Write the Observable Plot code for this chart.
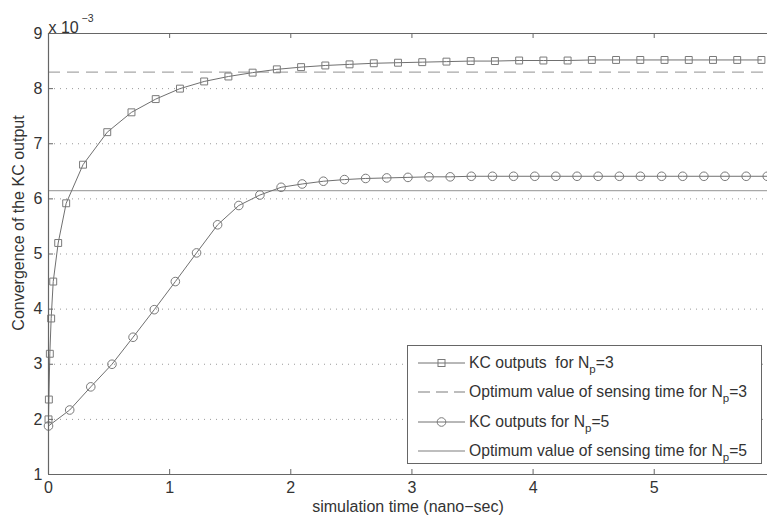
<!DOCTYPE html>
<html>
<head>
<meta charset="utf-8">
<script src="https://cdn.jsdelivr.net/npm/d3@7"></script>
<script src="https://cdn.jsdelivr.net/npm/@observablehq/plot@0.6"></script>
<style>
  html, body { margin: 0; padding: 0; background: #fff; overflow: hidden; }
  #wrap { position: relative; width: 767px; height: 517px; overflow: hidden; font-family: "Liberation Sans", Arial, sans-serif; }
  #wrap svg.plot { display: block; }
  #legend { position: absolute; left: 407px; top: 345px; width: 355px; height: 119px; box-sizing: border-box;
            border: 1px solid #666; background: #fff; }
  .row { position: absolute; left: 0; height: 28px; display: flex; align-items: center; white-space: nowrap;
         font-size: 15.7px; color: #333; }
  .row svg { display: block; flex: none; }
  .row span { margin-left: 0px; }
  .row sub { font-size: 11.5px; line-height: 0; vertical-align: -5px; }
  #ylabel { position: absolute; left: 19px; top: 223px; transform: translate(-50%, -50%) rotate(-90deg);
            white-space: nowrap; font-size: 16px; color: #333; line-height: 1; }
</style>
</head>
<body>
<div id="wrap"><div id="chart"></div><div id="ylabel"></div><div id="legend"></div></div>
<script>
// ---- data (values in units of 10^-3) ----
const seriesNames = ["KC outputs  for N_p=3", "Optimum value of sensing time for N_p=3",
                     "KC outputs for N_p=5", "Optimum value of sensing time for N_p=5"];

const timeNp3 = [0, 0.003, 0.011, 0.022, 0.039, 0.08, 0.146, 0.285, 0.485, 0.685, 0.885, 1.085,
                 1.285, 1.485, 1.685, 1.885, 2.085, 2.285, 2.485, 2.685, 2.885, 3.085, 3.285,
                 3.485, 3.685, 3.885, 4.085, 4.285, 4.485, 4.685, 4.885, 5.085, 5.285, 5.485,
                 5.685, 5.885];
const kcNp3   = [2.0, 2.36, 3.19, 3.83, 4.50, 5.20, 5.92, 6.62, 7.21, 7.57, 7.81, 8.00,
                 8.13, 8.22, 8.29, 8.35, 8.39, 8.42, 8.44, 8.46, 8.47, 8.48, 8.49,
                 8.50, 8.50, 8.51, 8.51, 8.51, 8.52, 8.52, 8.52, 8.52, 8.52, 8.52,
                 8.52, 8.52];

const timeNp5 = [0, 0.175, 0.349, 0.524, 0.698, 0.873, 1.047, 1.222, 1.396, 1.571, 1.745, 1.92,
                 2.094, 2.269, 2.443, 2.618, 2.792, 2.967, 3.141, 3.316, 3.49, 3.665, 3.839,
                 4.014, 4.188, 4.363, 4.537, 4.712, 4.886, 5.061, 5.235, 5.41, 5.584, 5.759, 5.933];
const kcNp5   = [1.88, 2.17, 2.59, 3.00, 3.49, 3.99, 4.50, 5.02, 5.53, 5.88, 6.07, 6.21,
                 6.27, 6.32, 6.35, 6.37, 6.38, 6.39, 6.40, 6.40, 6.41, 6.41, 6.41,
                 6.41, 6.41, 6.41, 6.41, 6.41, 6.41, 6.41, 6.41, 6.41, 6.41, 6.41, 6.41];

const optimumNp3 = 8.30;
const optimumNp5 = 6.15;

const xTicks = [0, 1, 2, 3, 4, 5];
const yTicks = [1, 2, 3, 4, 5, 6, 7, 8, 9];
const yGrid  = [2, 3, 4, 5, 6, 7, 8];
const xDomain = [0, 5.935];
const yDomain = [1, 9];
const xLabel = "simulation time (nano\u2212sec)";
const yLabel = "Convergence of the KC output";
const expBase = "x 10";
const expPow = "\u22123";

// ---- build ----
const np3 = timeNp3.map((t, i) => ({t, v: kcNp3[i]}));
const np5 = timeNp5.map((t, i) => ({t, v: kcNp5[i]}));

const W = 767, H = 517;
const mT = 33, mB = 43, mL = 48, mR = 0;
const frameW = W - mL - mR, frameH = H - mT - mB;
const ink = "#333";
const lineC = "#707070";
const markC = "#7a7a7a";
const refC = "#a8a8a8";
const axisC = "#666";
const fs = 16;

const chart = Plot.plot({
  width: W, height: H,
  marginTop: mT, marginBottom: mB, marginLeft: mL, marginRight: mR,
  style: {fontFamily: "'Liberation Sans', Arial, sans-serif", fontSize: fs + "px", color: ink, background: "#fff"},
  x: {domain: xDomain},
  y: {domain: yDomain},
  marks: [
    Plot.gridY(yGrid, {stroke: "#9a9a9a", strokeOpacity: 1, strokeDasharray: "1,5"}),
    Plot.ruleY([optimumNp3], {stroke: refC, strokeWidth: 1.4, strokeDasharray: "12,7"}),
    Plot.ruleY([optimumNp5], {stroke: refC, strokeWidth: 1.4}),
    Plot.line(np5, {x: "t", y: "v", stroke: lineC, strokeWidth: 1}),
    Plot.dot(np5, {x: "t", y: "v", symbol: "circle", r: 4.3, stroke: markC, fill: "none", strokeWidth: 1}),
    Plot.line(np3, {x: "t", y: "v", stroke: lineC, strokeWidth: 1}),
    Plot.dot(np3, {x: "t", y: "v", symbol: "square", r: 3.9, stroke: markC, fill: "none", strokeWidth: 1}),
    // frame (top, bottom, left)
    Plot.ruleY([yDomain[0], yDomain[1]], {stroke: axisC, strokeWidth: 1.2}),
    Plot.ruleX([xDomain[0]], {stroke: axisC, strokeWidth: 1.2}),
    // inward ticks
    Plot.tickX(xTicks, {x: d => d, insetTop: frameH - 5, stroke: axisC}),
    Plot.tickX(xTicks, {x: d => d, insetBottom: frameH - 5, stroke: axisC}),
    Plot.tickY(yTicks, {y: d => d, insetRight: frameW - 5, stroke: axisC}),
    Plot.axisX({ticks: xTicks, tickFormat: d => String(d), tickSize: 0, tickPadding: 7, label: null, fill: ink, fontSize: fs}),
    Plot.axisY({ticks: yTicks, tickFormat: d => String(d), tickSize: 0, tickPadding: 6, label: null, fill: ink, fontSize: fs}),
    Plot.text([xLabel], {text: d => d, frameAnchor: "bottom", dy: 37, fill: ink, fontSize: fs}),
    Plot.text([expBase], {text: d => d, frameAnchor: "top-left", textAnchor: "start", dy: -12, fill: ink, fontSize: fs}),
    Plot.text([expPow], {text: d => d, frameAnchor: "top-left", textAnchor: "start", dx: 33, dy: -19, fill: ink, fontSize: 10.5})
  ]
});
document.getElementById("chart").appendChild(chart);
document.getElementById("ylabel").textContent = yLabel;

// ---- legend ----
const legend = document.getElementById("legend");
const rowsTop = [2.5, 32, 61.5, 91];
const sampleFor = i => {
  const y = 14;
  let s = `<svg width="61" height="28">`;
  if (i === 0) s += `<line x1="10" x2="57" y1="${y}" y2="${y}" stroke="${lineC}"/><rect x="${33.5-3.5}" y="${y-3.5}" width="7" height="7" fill="none" stroke="${markC}"/>`;
  if (i === 1) s += `<line x1="10" x2="57" y1="${y}" y2="${y}" stroke="${refC}" stroke-width="1.4" stroke-dasharray="12,6"/>`;
  if (i === 2) s += `<line x1="10" x2="57" y1="${y}" y2="${y}" stroke="${lineC}"/><circle cx="33.5" cy="${y}" r="4.3" fill="none" stroke="${markC}"/>`;
  if (i === 3) s += `<line x1="10" x2="57" y1="${y}" y2="${y}" stroke="${refC}" stroke-width="1.4"/>`;
  return s + `</svg>`;
};
seriesNames.forEach((name, i) => {
  const row = document.createElement("div");
  row.className = "row";
  row.style.top = rowsTop[i] + "px";
  const html = name.replace(/  /g, "&nbsp; ").replace("N_p", "N<sub>p</sub>");
  row.innerHTML = sampleFor(i) + `<span>${html}</span>`;
  legend.appendChild(row);
});
</script>
</body>
</html>
